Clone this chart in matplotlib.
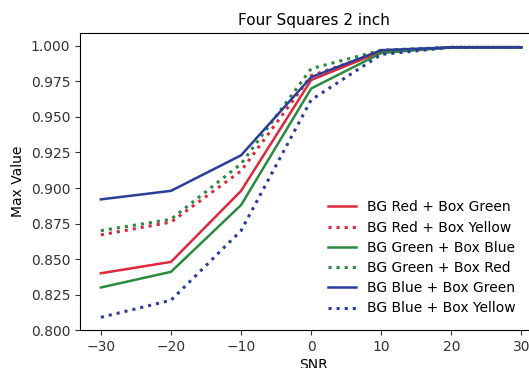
import numpy as np
import matplotlib.pyplot as plt

# dane
snr = [-30, -20, -10, 0, 10, 20, 30]

red_green = [0.840, 0.848, 0.898, 0.976, 0.996, 0.999, 0.999]
red_yellow = [0.867, 0.876, 0.912, 0.979, 0.996, 0.999, 0.999]
green_blue = [0.830, 0.841, 0.888, 0.970, 0.995, 0.999, 0.999]
green_red = [0.870, 0.878, 0.917, 0.984, 0.997, 0.999, 0.999]
blue_green = [0.892, 0.898, 0.923, 0.978, 0.997, 0.999, 0.999]
blue_yellow = [0.809, 0.821, 0.870, 0.962, 0.994, 0.999, 0.999]

labels = ['BG Red + Box Green', 'BG Red + Box Yellow', 'BG Green + Box Blue',
          'BG Green + Box Red', 'BG Blue + Box Green', 'BG Blue + Box Yellow']

red = '#e0283c'
green = '#2a8a3e'
blue = '#2b3d96'

fig = plt.figure(figsize=(5.29, 3.68), dpi=100)
# os wychodzi poza prawa krawedz jak na oryginale
ax = fig.add_axes([0.151, 0.103, 0.885, 0.807])

ax.plot(snr, red_green, color=red, lw=1.8, label=labels[0])
ax.plot(snr, red_yellow, color=red, lw=2.2, ls=':', label=labels[1])
ax.plot(snr, green_blue, color=green, lw=1.8, label=labels[2])
ax.plot(snr, green_red, color=green, lw=2.2, ls=':', label=labels[3])
ax.plot(snr, blue_green, color=blue, lw=1.8, label=labels[4])
ax.plot(snr, blue_yellow, color=blue, lw=2.2, ls=':', label=labels[5])

ax.set_xticks([-30, -20, -10, 0, 10, 20, 30])
ax.set_yticks(np.arange(0.800, 1.001, 0.025))
ax.set_xlim(-33, 33.8)
ax.set_ylim(0.8, 1.009)
ax.tick_params(labelsize=10, colors='#333333')
ax.set_title('Four Squares 2 inch', fontsize=11)
ax.set_xlabel('SNR', fontsize=10, labelpad=3)
ax.set_ylabel('Max Value', fontsize=10)

ax.legend(loc='lower right', bbox_to_anchor=(528/529, 40/368), bbox_transform=fig.transFigure,
          frameon=False, fontsize=10, handlelength=2.0, labelspacing=0.45)

fig.savefig('out.png', dpi=100)
